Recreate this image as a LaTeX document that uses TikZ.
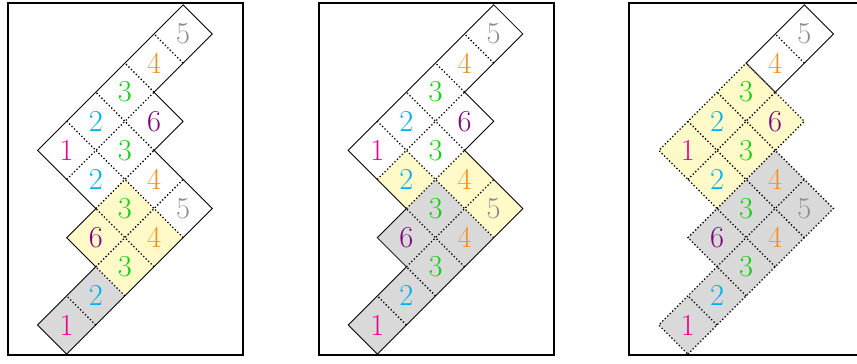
\documentclass[tikz,border=0pt]{standalone}
\usepackage{tikz}
\definecolor{cone}{RGB}{236,0,140}
\definecolor{ctwo}{RGB}{0,174,239}
\definecolor{cthree}{RGB}{20,205,20}
\definecolor{cfour}{RGB}{250,140,30}
\definecolor{cfive}{RGB}{140,140,140}
\definecolor{csix}{RGB}{128,0,128}
\definecolor{hiyel}{RGB}{255,250,200}
\definecolor{higray}{RGB}{217,217,217}
\tikzset{
  frame/.style={draw=black,line width=1.3pt},
  outl/.style={draw=black,line width=0.6pt,line join=miter},
  inner/.style={draw=black,line width=0.9pt,dash pattern=on 0.9pt off 1.5pt},
  digit/.style={inner sep=0pt,font=\fontsize{21}{25}\selectfont},
  yc/.style={fill=hiyel},
  gc/.style={fill=higray},
}
\newcommand\cellpath[2]{(#1,#2) -- ++(1,0) -- ++(0,1) -- ++(-1,0) -- cycle}
\newcommand\inneredges{%
  \draw[inner] (2,1) -- (5,1);
  \draw[inner] (3,2) -- (5,2);
  \draw[inner] (3,3) -- (6,3);
  \draw[inner] (1,0) -- (1,1);
  \draw[inner] (2,0) -- (2,1);
  \draw[inner] (3,0) -- (3,2);
  \draw[inner] (4,0) -- (4,4);
  \draw[inner] (5,2) -- (5,4);
  \draw[inner] (6,3) -- (6,4);
  \draw[inner] (7,3) -- (7,4);
}
\newcommand\digits[1]{%
  \node[digit,text=cone]   (#1a) at (0.5,0.5) {1};
  \node[digit,text=ctwo]   (#1b) at (1.5,0.5) {2};
  \node[digit,text=cthree] (#1c) at (2.5,0.5) {3};
  \node[digit,text=cfour]  (#1d) at (3.5,0.5) {4};
  \node[digit,text=cfive]  (#1e) at (4.5,0.5) {5};
  \node[digit,text=csix]   (#1f) at (2.5,1.5) {6};
  \node[digit,text=cthree] (#1g) at (3.5,1.5) {3};
  \node[digit,text=cfour]  (#1h) at (4.5,1.5) {4};
  \node[digit,text=ctwo]   (#1i) at (3.5,2.5) {2};
  \node[digit,text=cthree] (#1j) at (4.5,2.5) {3};
  \node[digit,text=csix]   (#1k) at (5.5,2.5) {6};
  \node[digit,text=cone]   (#1l) at (3.5,3.5) {1};
  \node[digit,text=ctwo]   (#1m) at (4.5,3.5) {2};
  \node[digit,text=cthree] (#1n) at (5.5,3.5) {3};
  \node[digit,text=cfour]  (#1o) at (6.5,3.5) {4};
  \node[digit,text=cfive]  (#1p) at (7.5,3.5) {5};
}
\newcommand\fulloutline{(0,0) -- (5,0) -- (5,2) -- (6,2) -- (6,3) -- (8,3) -- (8,4) -- (3,4) -- (3,2) -- (2,2) -- (2,1) -- (0,1) -- cycle}
\begin{document}
\begin{tikzpicture}[x=0.69pt,y=0.69pt]
\useasboundingbox (0,0) rectangle (857,363);
% frames
\draw[frame] (8.2,7.7) rectangle (243,360.2);
\draw[frame] (318.8,7.7) rectangle (553.6,360.2);
\draw[frame] (629.4,7.7) rectangle (864.2,360.2);
% panel 1
\begin{scope}[shift={(66.7,8.9)},rotate=45,x=28.4pt,y=28.4pt]
  \fill[gc] \cellpath{0}{0};
  \fill[gc] \cellpath{1}{0};
  \fill[yc] \cellpath{2}{0};
  \fill[yc] \cellpath{3}{0};
  \fill[yc] \cellpath{2}{1};
  \fill[yc] \cellpath{3}{1};
  \inneredges
  \draw[outl] \fulloutline;
  \digits{p}
\end{scope}
% panel 2
\begin{scope}[shift={(377.3,8.9)},rotate=45,x=28.4pt,y=28.4pt]
  \fill[gc] \cellpath{0}{0};
  \fill[gc] \cellpath{1}{0};
  \fill[gc] \cellpath{2}{0};
  \fill[gc] \cellpath{3}{0};
  \fill[gc] \cellpath{2}{1};
  \fill[gc] \cellpath{3}{1};
  \fill[yc] \cellpath{4}{0};
  \fill[yc] \cellpath{4}{1};
  \fill[yc] \cellpath{3}{2};
  \inneredges
  \draw[outl] \fulloutline;
  \digits{q}
\end{scope}
% panel 3
\begin{scope}[shift={(687.9,8.9)},rotate=45,x=28.4pt,y=28.4pt]
  \fill[gc] (0,0) -- (5,0) -- (5,2) -- (2,2) -- (2,1) -- (0,1) -- cycle;
  \fill[yc] (3,2) -- (6,2) -- (6,4) -- (3,4) -- cycle;
  \inneredges
  \draw[inner] (0,0) -- (5,0) -- (5,2) -- (6,2) -- (6,4) -- (3,4) -- (3,2) -- (2,2) -- (2,1) -- (0,1) -- cycle;
  \draw[outl] (6,3) -- (8,3) -- (8,4) -- (6,4);
  \digits{r}
\end{scope}
\end{tikzpicture}
\end{document}
